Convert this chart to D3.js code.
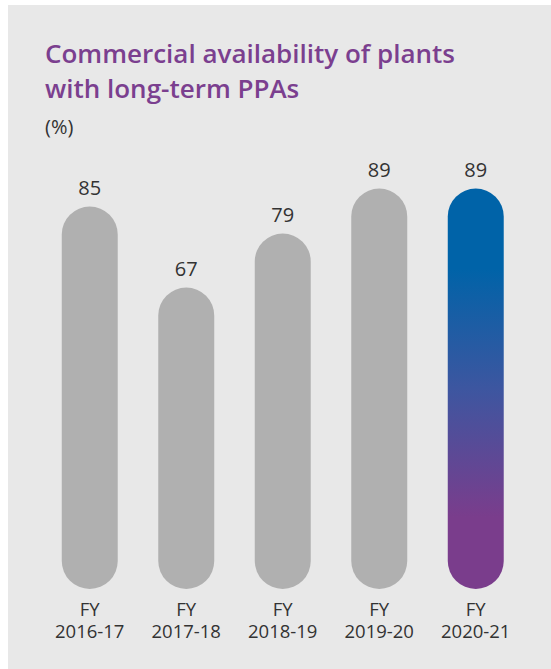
<!DOCTYPE html>
<html>
<head>
<meta charset="utf-8">
<script src="https://cdn.jsdelivr.net/npm/d3@7"></script>
<style>
  body { margin: 0; background: #fff; }
  svg { display: block; }
</style>
</head>
<body>
<div id="chart"></div>
<script>
// data
const years = ["2016-17", "2017-18", "2018-19", "2019-20", "2020-21"];
const availability = [85, 67, 79, 89, 89];

const width = 551, height = 669;
const font = "'Open Sans', sans-serif";

const svg = d3.select("#chart").append("svg")
    .attr("width", width)
    .attr("height", height);

// panel background
svg.append("rect")
    .attr("x", 8).attr("y", 5)
    .attr("width", width - 8).attr("height", height - 5)
    .attr("fill", "#e8e8e8");

const defs = svg.append("defs");
const grad = defs.append("linearGradient")
    .attr("id", "hl")
    .attr("x1", 0).attr("y1", 0).attr("x2", 0).attr("y2", 1);
grad.append("stop").attr("offset", "0.2").attr("stop-color", "#0063a8");
grad.append("stop").attr("offset", "0.5").attr("stop-color", "#3d56a0");
grad.append("stop").attr("offset", "0.82").attr("stop-color", "#7a3d8c");

// title
const title = svg.append("text")
    .attr("font-family", font)
    .attr("font-size", 26)
    .attr("font-weight", 600)
    .attr("fill", "#7b3f8f");
title.append("tspan").attr("x", 45).attr("y", 63).text("Commercial availability of plants");
title.append("tspan").attr("x", 45).attr("y", 98).text("with long-term PPAs");

svg.append("text")
    .attr("x", 45).attr("y", 134)
    .attr("font-family", font)
    .attr("font-size", 20)
    .attr("fill", "#333")
    .text("(%)");

// scales
const x = d3.scaleBand()
    .domain(years)
    .range([41.5, 524])
    .paddingInner(0.42)
    .paddingOuter(0.21);

const y = d3.scaleLinear()
    .domain([0, 100])
    .range([589, 139]);

const bw = x.bandwidth();

svg.append("g")
    .selectAll("rect")
    .data(years)
    .enter().append("rect")
    .attr("x", d => x(d))
    .attr("y", (d, i) => y(availability[i]))
    .attr("width", bw)
    .attr("height", (d, i) => y(0) - y(availability[i]))
    .attr("rx", bw / 2)
    .attr("ry", bw / 2)
    .attr("fill", (d, i) => i === years.length - 1 ? "url(#hl)" : "#b0b0b0");

// value labels
svg.append("g")
    .selectAll("text")
    .data(years)
    .enter().append("text")
    .attr("x", d => x(d) + bw / 2)
    .attr("y", (d, i) => y(availability[i]) - 12)
    .attr("text-anchor", "middle")
    .attr("font-family", font)
    .attr("font-size", 20)
    .attr("fill", "#333")
    .text((d, i) => availability[i]);

// category labels, two lines each
const cat = svg.append("g")
    .attr("font-family", font)
    .attr("font-size", 18.5)
    .attr("fill", "#333")
    .attr("text-anchor", "middle");
cat.selectAll("text.fy")
    .data(years)
    .enter().append("text")
    .attr("class", "fy")
    .attr("x", d => x(d) + bw / 2).attr("y", 616)
    .text("FY");
cat.selectAll("text.yr")
    .data(years)
    .enter().append("text")
    .attr("class", "yr")
    .attr("x", d => x(d) + bw / 2).attr("y", 638)
    .text(d => d);
</script>
</body>
</html>
